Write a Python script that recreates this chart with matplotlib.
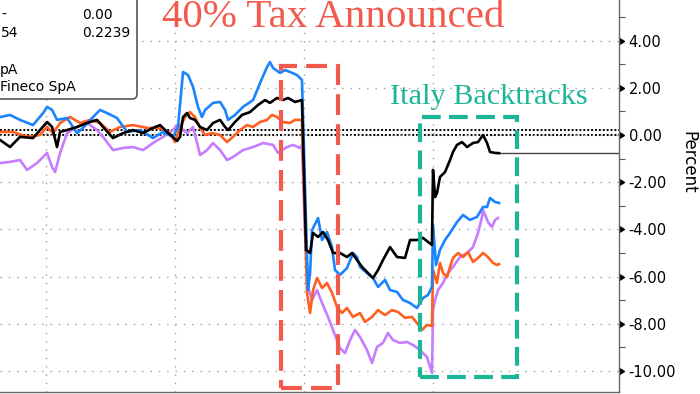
import numpy as np
import matplotlib.pyplot as plt
from matplotlib.patches import Rectangle, FancyBboxPatch

plt.rcParams['axes.unicode_minus'] = False

# time in trading days (gridlines at day starts 0..3), values in percent
t_black = [-0.357, -0.279, -0.202, -0.101, 0.008, 0.047, 0.085, 0.109, 0.163, 0.240, 0.318, 0.395,
           0.442, 0.519, 0.597, 0.674, 0.752, 0.829, 0.884, 0.938, 1.016, 1.039, 1.062, 1.093,
           1.116, 1.155, 1.194, 1.248, 1.295, 1.349, 1.388, 1.411, 1.465, 1.519, 1.581, 1.643,
           1.698, 1.736, 1.791, 1.837, 1.876, 1.930, 1.984, 2.016, 2.047, 2.070, 2.109, 2.147,
           2.186, 2.225, 2.279, 2.333, 2.372, 2.411, 2.450, 2.496, 2.535, 2.574, 2.612, 2.667,
           2.721, 2.783, 2.822, 2.876, 2.922, 2.961, 2.992, 3.000, 3.016, 3.031, 3.054, 3.093,
           3.132, 3.155, 3.186, 3.225, 3.264, 3.310, 3.349, 3.388, 3.419, 3.442, 3.481, 3.512]
v_black = [-0.21, -0.51, -0.08, -0.13, 0.55, 0.34, -0.51, 0.13, 0.21, 0.34, 0.51, 0.64,
           0.34, -0.13, 0.08, 0.21, 0.08, 0.30, 0.42, 0.13, -0.25, -0.08, 0.76, 0.93,
           0.72, 0.64, 0.34, 0.21, 0.51, 0.64, 0.34, 0.21, 0.55, 0.85, 0.97, 1.27,
           1.48, 1.36, 1.57, 1.48, 1.57, 1.40, 1.48, -4.87, -5.00, -4.15, -4.32, -4.11,
           -4.45, -5.00, -5.00, -5.17, -5.00, -5.30, -5.59, -5.85, -6.06, -5.72, -5.30, -4.75,
           -5.17, -5.21, -4.45, -4.45, -4.36, -4.53, -4.66, -1.48, -2.63, -2.46, -1.78, -1.57,
           -1.06, -0.72, -0.42, -0.30, -0.51, -0.34, -0.30, 0.00, -0.34, -0.72, -0.76, -0.77]

t_blue = [-0.357, -0.279, -0.202, -0.101, -0.023, 0.008, 0.047, 0.085, 0.163, 0.240, 0.287, 0.364,
          0.419, 0.473, 0.550, 0.628, 0.729, 0.829, 0.907, 0.984, 1.023, 1.062, 1.101, 1.140,
          1.178, 1.209, 1.233, 1.295, 1.349, 1.388, 1.411, 1.465, 1.527, 1.605, 1.659, 1.713,
          1.736, 1.760, 1.814, 1.853, 1.891, 1.946, 1.984, 2.031, 2.047, 2.062, 2.109, 2.140,
          2.178, 2.217, 2.240, 2.279, 2.333, 2.380, 2.411, 2.434, 2.488, 2.535, 2.574, 2.628,
          2.667, 2.721, 2.767, 2.822, 2.876, 2.922, 2.961, 2.992, 3.000, 3.023, 3.054, 3.093,
          3.132, 3.186, 3.233, 3.287, 3.341, 3.388, 3.419, 3.442, 3.481, 3.512]
v_blue = [0.76, 0.85, 0.64, 0.42, 0.93, 1.19, 1.06, 0.64, 0.72, 0.08, 0.30, 0.76,
          1.06, 0.93, 0.72, 0.13, 0.21, -0.13, 0.13, -0.08, 0.34, 2.67, 2.54, 2.03,
          1.19, 0.76, 1.06, 1.36, 1.40, 1.06, 0.64, 0.85, 1.19, 1.48, 2.20, 2.88,
          3.09, 2.84, 2.63, 2.75, 2.67, 2.54, 2.33, -6.57, -5.85, -4.03, -3.52, -4.45,
          -4.11, -4.75, -5.72, -5.93, -5.64, -5.00, -5.17, -5.59, -5.85, -6.06, -6.44, -6.14,
          -6.57, -6.65, -6.99, -7.12, -7.33, -6.91, -6.78, -6.44, -3.81, -5.51, -4.87, -4.45,
          -4.15, -3.69, -3.39, -3.60, -3.47, -3.05, -3.05, -2.67, -2.84, -2.88]

t_orange = [-0.357, -0.256, -0.147, -0.047, 0.008, 0.054, 0.109, 0.186, 0.264, 0.341, 0.419, 0.496,
            0.574, 0.674, 0.783, 0.884, 0.961, 1.000, 1.039, 1.078, 1.116, 1.155, 1.194, 1.233,
            1.287, 1.349, 1.403, 1.450, 1.504, 1.558, 1.605, 1.659, 1.713, 1.752, 1.791, 1.837,
            1.891, 1.930, 1.984, 2.023, 2.047, 2.070, 2.101, 2.140, 2.178, 2.217, 2.256, 2.295,
            2.333, 2.380, 2.434, 2.473, 2.527, 2.574, 2.628, 2.682, 2.729, 2.783, 2.837, 2.876,
            2.915, 2.953, 2.992, 3.000, 3.031, 3.054, 3.078, 3.109, 3.132, 3.155, 3.194, 3.233,
            3.271, 3.310, 3.349, 3.388, 3.426, 3.465, 3.496, 3.512]
v_orange = [0.13, 0.13, -0.08, 0.00, 0.34, 0.08, 0.51, 0.76, 0.51, 0.64, 0.51, 0.13,
            0.34, 0.42, 0.30, 0.30, 0.08, -0.30, 0.34, 0.76, 0.97, 0.76, 0.30, 0.00,
            0.08, 0.00, -0.30, -0.08, 0.21, 0.42, 0.34, 0.55, 0.64, 0.85, 0.76, 0.55,
            0.51, 0.64, 0.64, -6.69, -7.54, -6.57, -6.06, -6.48, -6.27, -6.69, -7.29, -7.54,
            -7.33, -7.71, -7.54, -7.92, -7.71, -7.42, -7.63, -7.42, -7.50, -7.75, -7.71, -7.97,
            -8.26, -8.05, -8.09, -5.72, -6.27, -5.42, -5.85, -6.02, -5.59, -5.21, -5.00, -5.17,
            -4.96, -5.38, -5.21, -5.00, -5.17, -5.42, -5.51, -5.47]

t_purple = [-0.357, -0.279, -0.202, -0.147, -0.070, 0.008, 0.047, 0.070, 0.109, 0.163, 0.240, 0.318,
            0.395, 0.442, 0.519, 0.597, 0.674, 0.752, 0.829, 0.907, 0.984, 1.016, 1.093, 1.140,
            1.194, 1.248, 1.295, 1.349, 1.403, 1.450, 1.527, 1.605, 1.682, 1.760, 1.798, 1.868,
            1.915, 1.969, 1.984, 2.008, 2.031, 2.062, 2.101, 2.140, 2.186, 2.225, 2.279, 2.318,
            2.357, 2.395, 2.434, 2.488, 2.527, 2.566, 2.612, 2.651, 2.690, 2.744, 2.798, 2.845,
            2.899, 2.953, 2.992, 3.000, 3.016, 3.039, 3.078, 3.116, 3.155, 3.209, 3.264, 3.310,
            3.349, 3.380, 3.388, 3.426, 3.457, 3.481, 3.504]
v_purple = [-1.19, -1.14, -1.06, -1.48, -1.19, -0.76, -1.36, -1.57, -0.76, 0.08, 0.34, 0.51,
            0.21, -0.08, -0.64, -0.55, -0.51, -0.64, -0.34, -0.08, 0.21, 0.42, 0.08, 0.34,
            -0.85, -0.64, -0.34, -0.64, -1.06, -0.93, -0.64, -0.51, -0.34, -0.42, -0.76, -0.51,
            -0.42, -0.55, -0.42, -4.15, -6.44, -6.99, -6.57, -7.12, -7.71, -8.26, -9.03, -9.24,
            -8.69, -8.26, -8.56, -9.11, -9.66, -8.98, -8.81, -8.39, -8.69, -8.81, -8.77, -8.90,
            -9.11, -9.41, -10.08, -7.42, -6.99, -6.57, -6.27, -5.85, -5.59, -5.17, -5.00, -4.75,
            -4.15, -3.47, -3.18, -3.69, -3.90, -3.60, -3.52]

ref_lines = [0.2239, 0.00]
legend_vals = ['0.00', '0.2239']
legend_keys = ['-', '54']
legend_names = ['pA', 'Fineco SpA']

fig = plt.figure(figsize=(7, 3.94), dpi=100)
ax = fig.add_axes([0, 2 / 394, 619 / 700, 392 / 394])
ax.set_xlim(-0.357, 4.442)
ax.set_ylim(-10.89, 5.72)

# grid
ax.set_xticks([0, 1, 2, 3])
ax.set_xticklabels([])
ax.tick_params(axis='x', length=0)
ax.yaxis.tick_right()
ax.set_yticks(np.arange(-10, 5, 2))
ax.set_yticks(np.arange(-9, 6, 2), minor=True)
ax.set_yticklabels(['{:.2f}'.format(v) for v in np.arange(-10, 5, 2)])
ax.tick_params(axis='y', which='major', length=3, width=1.4, pad=4, labelsize=10.5,
               color='black')
ax.tick_params(axis='y', which='minor', length=4, width=0.8, color='#555555')
ax.grid(True, which='major', color='#a0a0a0', linestyle=(0, (1, 5)), linewidth=1)
for s in ['left', 'top']:
    ax.spines[s].set_visible(False)
for s in ['right', 'bottom']:
    ax.spines[s].set_color('#666666')
    ax.spines[s].set_linewidth(1)

# tick arrows
yt = ax.get_yaxis_transform()
ax.plot(np.full(8, 1.0), np.arange(-10, 5, 2), linestyle='none', marker=9, markersize=5,
        color='black', transform=yt, clip_on=False)

for r in ref_lines:
    ax.axhline(r, color='black', linestyle=(0, (1, 1)), linewidth=1.4, zorder=1.5)

ax.plot(t_purple, v_purple, color='#c77dff', lw=1.9, zorder=2)
ax.plot(t_orange, v_orange, color='#ff5f1f', lw=1.9, zorder=2.1)
ax.plot(t_blue, v_blue, color='#1a84ff', lw=1.9, zorder=2.2)
ax.plot(t_black, v_black, color='black', lw=1.9, zorder=2.3)

ax.hlines(v_black[-1], t_black[-1], 4.442, color='#444444', lw=1, clip_on=False, zorder=2)

# annotation boxes
ax.add_patch(Rectangle((1.822, -10.72), 0.442, 13.64, fill=False, edgecolor='#f25a4e',
                       lw=3, linestyle=(0, (5, 2.2)), clip_on=False, zorder=5))
ax.add_patch(Rectangle((2.899, -10.25), 0.752, 11.01, fill=False, edgecolor='#1bb598',
                       lw=3, linestyle=(0, (4.5, 2)), clip_on=False, zorder=5))

fig.text(333 / 700, 1 - 27 / 394, '40% Tax Announced', family='Liberation Serif',
         fontsize=29.5, color='#f25a4e', ha='center', va='baseline')
fig.text(489 / 700, 1 - 104 / 394, 'Italy Backtracks', family='Liberation Serif',
         fontsize=21.8, color='#1bb598', ha='center', va='baseline')

fig.text(688 / 700, 1 - 162 / 394, 'Percent', rotation=270, fontsize=12,
         ha='center', va='center')

# legend box (cut off at the left)
box = FancyBboxPatch((-0.5, 2.95), 1.87, 1.5, boxstyle='round,pad=0,rounding_size=0.05',
                     transform=fig.dpi_scale_trans, facecolor='white',
                     edgecolor='#555555', lw=1.2, zorder=4)
fig.patches.append(box)
for i, (k, v) in enumerate(zip(legend_keys, legend_vals)):
    y = 1 - (15 + 18 * i) / 394
    fig.text(1 / 700, y, k, fontsize=10, va='center', zorder=5)
    fig.text(82 / 700, y, v, fontsize=10, va='center', zorder=5)
for i, n in enumerate(legend_names):
    fig.text(0, 1 - (70 + 17 * i) / 394, n, fontsize=10, va='center', zorder=5)

fig.savefig('out.png', dpi=100)
